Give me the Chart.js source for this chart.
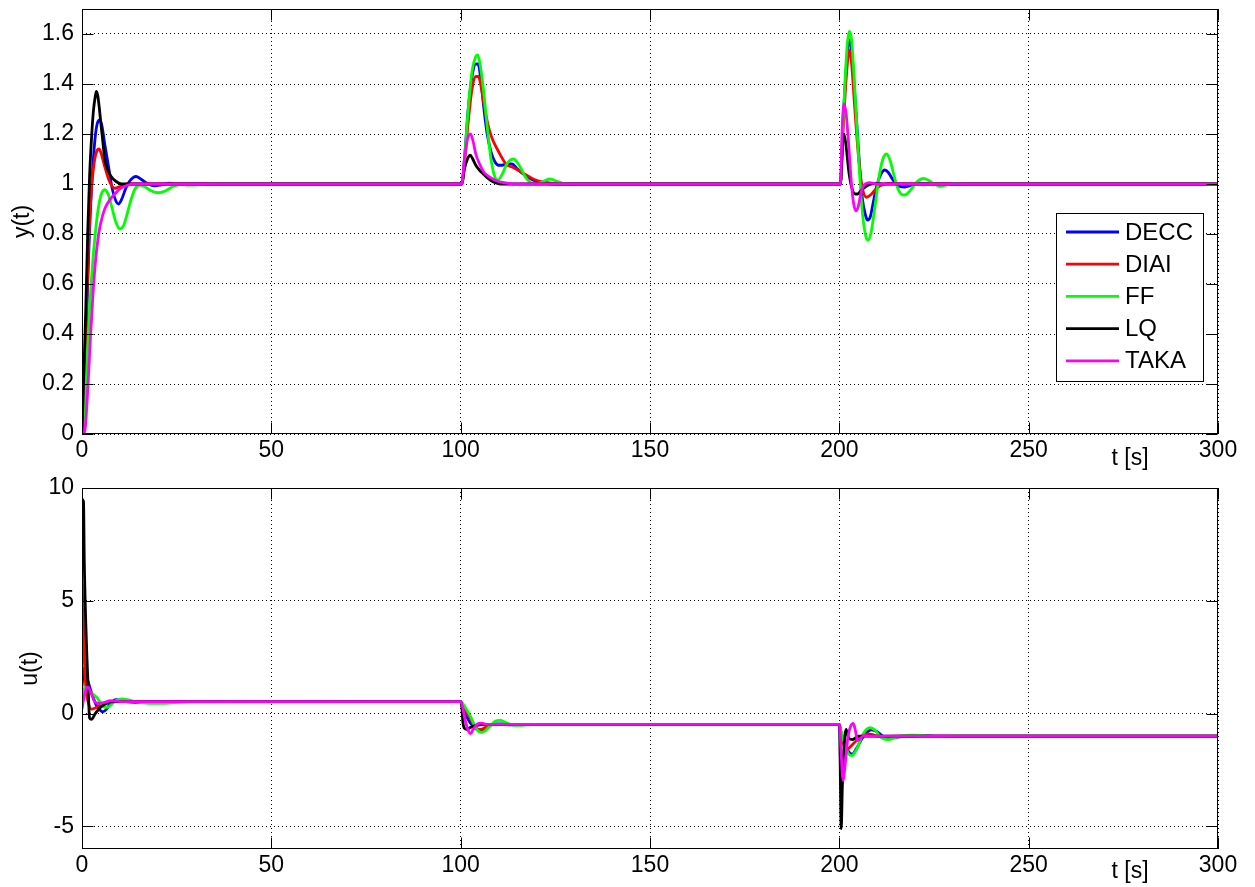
<!DOCTYPE html>
<html>
<head>
<meta charset="utf-8">
<script src="https://cdn.jsdelivr.net/npm/chart.js@4.4.1/dist/chart.umd.min.js"></script>
<style>
  body { margin: 0; background: #fff; }
  #wrap { position: relative; width: 1255px; height: 887px; }
  canvas { position: absolute; left: 0; }
</style>
</head>
<body>
<div id="wrap">
  <canvas id="yChart" width="1255" height="480" style="top:0"></canvas>
  <canvas id="uChart" width="1255" height="425" style="top:462px"></canvas>
</div>
<script>
// controllers, in legend order
const names = ['DECC', 'DIAI', 'FF', 'LQ', 'TAKA'];
const colors = ['#0000ff', '#ff0000', '#00ff00', '#000000', '#ff00ff'];

const tTicks = [0, 50, 100, 150, 200, 250, 300];
const yTicks = [0, 0.2, 0.4, 0.6, 0.8, 1, 1.2, 1.4, 1.6];
const uTicks = [-5, 0, 5, 10];

// output y(t), [t, y]
const yDECC = [[0,0],[0.5,0.12],[1,0.35],[1.5,0.6],[2,0.82],[2.5,0.98],[3,1.1],[3.5,1.19],[4,1.24],[4.7,1.256],[5.3,1.23],[6,1.16],[7,1.07],[8,0.98],[9,0.93],[9.6,0.92],[10.5,0.94],[11.5,0.98],[12.5,1.01],[14.3,1.03],[16,1.015],[17.5,1.0],[19.2,0.993],[21,0.997],[23,1.003],[25,1.0],
  [100,1.0],[100.3,1.0],[101,1.1],[102,1.3],[103,1.43],[104,1.48],[104.6,1.48],[105.3,1.42],[106,1.32],[107,1.2],[108,1.13],[109,1.09],[110,1.075],[111,1.075],[112,1.08],[113.5,1.08],[115,1.06],[116.5,1.04],[118,1.025],[120,1.01],[122,1.003],[125,1.0],
  [200,1.0],[200.3,1.0],[201,1.25],[202,1.5],[202.6,1.576],[203.2,1.54],[204,1.38],[205,1.15],[206,0.95],[207,0.87],[207.5,0.856],[208.2,0.87],[209,0.93],[210,1.0],[211,1.04],[212,1.056],[213,1.045],[214,1.02],[215,1.0],[216,0.99],[217.3,0.988],[219,0.995],[221,1.003],[223,1.002],[226,1.0],[300,1.0]];
const yDIAI = [[0,0],[0.5,0.15],[1,0.4],[1.5,0.65],[2,0.85],[2.5,0.98],[3,1.06],[3.5,1.11],[4,1.135],[4.5,1.14],[5,1.125],[6,1.07],[7,1.02],[8,0.99],[8.7,0.983],[10,0.99],[11,0.997],[12,1.0],
  [100,1.0],[100.3,1.0],[101,1.08],[102,1.25],[103,1.38],[104,1.43],[104.7,1.43],[105.5,1.38],[106.5,1.29],[107.5,1.22],[108.5,1.175],[110,1.13],[112,1.08],[114,1.065],[116,1.048],[118,1.03],[120,1.015],[123,1.005],[127,1.0],
  [200,1.0],[200.3,1.0],[201,1.22],[202,1.46],[202.6,1.536],[203.2,1.49],[204,1.32],[205,1.12],[206,0.99],[207.2,0.947],[208.5,0.96],[210,0.985],[212,1.0],[214,1.003],[217,1.0],[300,1.0]];
const yFF = [[0,0],[0.5,0.06],[1,0.18],[1.5,0.35],[2,0.5],[2.5,0.62],[3,0.72],[3.5,0.8],[4,0.87],[4.5,0.92],[5,0.955],[6,0.977],[7,0.955],[8,0.9],[9,0.845],[10,0.82],[11,0.835],[12,0.885],[13,0.94],[14,0.98],[15.2,0.996],[16.5,0.99],[18,0.975],[20,0.965],[22,0.972],[24,0.99],[26,0.998],[28,0.996],[31,0.997],[34,1.0],
  [100,1.0],[100.3,1.0],[101,1.1],[102,1.3],[103,1.45],[104,1.51],[104.5,1.516],[105,1.49],[106,1.38],[107,1.23],[108,1.1],[109,1.03],[109.8,1.015],[111,1.04],[112,1.075],[113,1.095],[114,1.1],[115,1.085],[116,1.06],[117,1.03],[118.5,1.005],[120,1.0],[122,1.012],[123.6,1.02],[125,1.013],[127,1.003],[130,1.0],
  [200,1.0],[200.3,1.0],[201,1.25],[202,1.54],[202.6,1.61],[203.2,1.58],[204,1.4],[205,1.13],[206,0.9],[207,0.79],[207.5,0.776],[208.3,0.8],[209.5,0.92],[210.5,1.03],[211.5,1.1],[212.5,1.12],[213.5,1.09],[214.5,1.03],[215.5,0.98],[216.5,0.958],[217.3,0.956],[218.5,0.97],[220,1.0],[221,1.015],[222.2,1.022],[223.5,1.015],[225,1.0],[226.6,0.99],[228,0.995],[230,1.002],[233,1.0],[300,1.0]];
const yLQ = [[0,0],[0.3,0.15],[0.7,0.35],[1,0.5],[1.5,0.8],[2,1.03],[2.5,1.18],[3,1.29],[3.5,1.35],[3.8,1.37],[4.2,1.35],[4.6,1.3],[5,1.24],[5.5,1.17],[6,1.1],[6.5,1.07],[7,1.05],[7.7,1.03],[9,1.01],[10.5,1.0],
  [100,1.0],[100.3,1.0],[101,1.06],[101.8,1.1],[102.5,1.115],[103.2,1.1],[104,1.075],[105,1.055],[106,1.04],[107,1.025],[108,1.014],[109,1.006],[110.5,1.0],
  [200,1.0],[200.3,1.0],[200.8,1.15],[201.2,1.2],[201.8,1.15],[202.5,1.05],[203.3,0.985],[204.2,0.96],[204.8,0.96],[205.8,0.975],[207,0.99],[208.5,1.0],[210,1.002],[212,1.0],[300,1.0]];
const yTAKA = [[0,0],[0.7,0.01],[1,0.05],[1.6,0.2],[2.2,0.38],[2.9,0.56],[3.5,0.68],[4.4,0.8],[5.2,0.86],[6,0.9],[7.5,0.94],[9,0.965],[10,0.98],[12,0.995],[14,1.0],
  [100,1.0],[100.3,1.0],[101,1.1],[101.8,1.18],[102.6,1.2],[103.3,1.17],[104,1.12],[105,1.08],[106,1.05],[107,1.035],[108.5,1.02],[110,1.01],[112,1.004],[114,1.0],
  [200,1.0],[200.3,1.0],[200.7,1.2],[201.2,1.32],[201.8,1.28],[202.5,1.15],[203.2,1.0],[203.8,0.92],[204.4,0.893],[205,0.91],[205.8,0.97],[206.8,1.0],[208,1.005],[210,1.0],[300,1.0]];

// control signal u(t), [t, u]
const uDECC = [[0,1.2],[0.5,2.0],[1,1.8],[1.5,1.5],[2,1.2],[3,0.7],[4,0.3],[5,0.12],[5.5,0.08],[6.5,0.2],[7.5,0.45],[9,0.62],[10.5,0.6],[12,0.52],[14,0.5],[20,0.52],[25,0.53],
  [100,0.53],[100.5,0.3],[101.5,-0.1],[102.5,-0.4],[104,-0.68],[105.5,-0.75],[107,-0.6],[109,-0.45],[111,-0.45],[113,-0.5],[116,-0.48],
  [200,-0.48],[200.5,-0.9],[201.5,-1.4],[202.5,-1.7],[203.3,-1.8],[204.5,-1.55],[206,-1.1],[207.5,-0.8],[208.5,-0.72],[210,-0.8],[211.5,-1.0],[213,-1.1],[215,-1.05],[218,-1.0],[222,-0.97],[226,-1.0],[300,-1.0]];
const uDIAI = [[0,5.8],[0.3,4.5],[0.6,2.5],[1,1.2],[1.5,0.6],[2.5,0.2],[3.5,0.25],[5,0.4],[7,0.5],[9,0.53],
  [100,0.53],[100.5,0.4],[101.5,0.1],[102.5,-0.2],[103.5,-0.5],[104.5,-0.68],[105.5,-0.7],[106.5,-0.6],[108,-0.5],[110,-0.48],
  [200,-0.48],[200.5,-0.9],[201.2,-1.4],[201.9,-1.6],[203,-1.45],[204.5,-1.2],[206,-1.0],[207.2,-0.9],[208.5,-0.92],[210,-1.0],[212,-1.02],[215,-1.0],[300,-1.0]];
const uFF = [[0,0.8],[0.5,1.1],[1,1.15],[2,1.0],[3,0.85],[4,0.7],[5,0.45],[6,0.28],[7,0.3],[8,0.45],[9,0.58],[10.5,0.65],[12,0.62],[13.5,0.55],[16,0.48],[20,0.45],[24,0.48],[28,0.52],
  [100,0.53],[100.5,0.45],[101.5,0.2],[102.5,-0.1],[103.5,-0.45],[104.5,-0.75],[105.5,-0.83],[106.5,-0.75],[108,-0.5],[109,-0.35],[110.4,-0.3],[112,-0.4],[114,-0.52],[116,-0.52],[120,-0.48],
  [200,-0.48],[200.5,-0.8],[201.5,-1.4],[202.5,-1.8],[203.3,-1.86],[204.5,-1.6],[206,-1.0],[207,-0.72],[208.1,-0.62],[209.5,-0.75],[211,-1.05],[212.9,-1.15],[214.5,-1.08],[216.5,-0.98],[219,-0.95],[222,-0.97],[226,-1.02],[230,-1.0],[300,-1.0]];
const uLQ = [[0,9.5],[0.4,9.4],[0.6,6.8],[1,4],[1.3,2.5],[1.7,0.8],[2,-0.2],[2.5,-0.25],[3.5,0.0],[5,0.3],[6.5,0.45],[7.5,0.52],[9,0.53],
  [100,0.53],[100.3,0.3],[100.6,-0.4],[101,-0.65],[101.6,-0.7],[102.5,-0.62],[103.5,-0.55],[105,-0.5],[107,-0.48],
  [200,-0.48],[200.2,-2],[200.5,-5.1],[200.8,-3.2],[201.2,-1.6],[201.8,-0.7],[202.5,-1.1],[203.5,-1.15],[205,-1.0],[300,-1.0]];
const uTAKA = [[0,0.2],[0.5,0.7],[1,1.05],[1.6,1.18],[2.2,1.0],[3.3,0.55],[4.5,0.45],[6,0.5],[7.5,0.57],[9,0.55],[11,0.53],
  [100,0.53],[100.5,0.3],[101.2,-0.3],[102,-0.75],[102.6,-0.89],[103.3,-0.7],[104.5,-0.45],[105.5,-0.42],[107,-0.48],[109,-0.48],
  [200,-0.48],[200.4,-1.5],[200.8,-2.7],[201.06,-2.96],[201.5,-2.3],[202.3,-1.0],[203,-0.55],[203.7,-0.43],[204.3,-0.8],[204.8,-1.2],[205.6,-1.1],[206.5,-0.97],[208,-1.0],[300,-1.0]];

const FONT = "'Liberation Sans', Arial, Helvetica, sans-serif";
Chart.defaults.font.family = FONT;
Chart.defaults.font.size = 23;
Chart.defaults.color = '#000';

function makeDatasets(series) {
  return series.map((pts, i) => ({
    label: names[i],
    data: pts.map(p => ({x: p[0], y: p[1]})),
    borderColor: colors[i],
    backgroundColor: colors[i],
    borderWidth: 2.8,
    pointRadius: 0,
    showLine: true,
    fill: false,
    cubicInterpolationMode: 'monotone',
    order: series.length - 1 - i   // last one (TAKA) on top, like matlab
  }));
}

// matlab style box, inward ticks, axis labels and legend
const frame = {
  id: 'frame',
  afterDraw(chart, args, opts) {
    const ctx = chart.ctx;
    const a = chart.chartArea;
    const xs = chart.scales.x, ys = chart.scales.y;
    const L = Math.round(a.left) + 0.5, R = Math.round(a.right) - 0.5;
    const T = Math.round(a.top) + 0.5, B = Math.round(a.bottom) - 0.5;
    const tl = 11;
    ctx.save();
    ctx.strokeStyle = '#000';
    ctx.lineWidth = 1;
    ctx.beginPath();
    tTicks.forEach(v => {
      const px = Math.round(xs.getPixelForValue(v)) + 0.5;
      ctx.moveTo(px, B); ctx.lineTo(px, B - tl);
      ctx.moveTo(px, T); ctx.lineTo(px, T + tl);
    });
    opts.yTicks.forEach(v => {
      const py = Math.round(ys.getPixelForValue(v)) + 0.5;
      ctx.moveTo(L, py); ctx.lineTo(L + tl, py);
      ctx.moveTo(R, py); ctx.lineTo(R - tl, py);
    });
    ctx.stroke();
    ctx.strokeRect(L, T, R - L, B - T);

    ctx.fillStyle = '#000';
    ctx.font = '23px ' + FONT;
    // y label
    ctx.save();
    ctx.translate(opts.yLabelX, (a.top + a.bottom) / 2);
    ctx.rotate(-Math.PI / 2);
    ctx.textAlign = 'center';
    ctx.textBaseline = 'middle';
    ctx.fillText(opts.yLabel, 0, 0);
    ctx.restore();
    // x label
    ctx.textAlign = 'center';
    ctx.textBaseline = 'alphabetic';
    ctx.fillText('t [s]', 1130, a.bottom + opts.xLabelDy);

    if (opts.legend) {
      const lx = 1056, ly = 213, lw = 147, lh = 168;
      ctx.fillStyle = '#fff';
      ctx.fillRect(lx, ly, lw, lh);
      ctx.strokeRect(lx + 0.5, ly + 0.5, lw, lh);
      ctx.font = '24px ' + FONT;
      ctx.textAlign = 'left';
      ctx.textBaseline = 'middle';
      names.forEach((n, i) => {
        const ry = 232 + i * 32.2;
        ctx.strokeStyle = colors[i];
        ctx.lineWidth = 2.8;
        ctx.beginPath();
        ctx.moveTo(1066, ry); ctx.lineTo(1119, ry);
        ctx.stroke();
        ctx.fillStyle = '#000';
        ctx.fillText(n, 1125, ry + 1);
      });
    }
    ctx.restore();
  }
};

function makeChart(id, series, yMin, yMax, ticksY, pad, xHeight, frameOpts) {
  return new Chart(document.getElementById(id), {
    type: 'scatter',
    data: {datasets: makeDatasets(series)},
    options: {
      responsive: false,
      animation: false,
      events: [],
      layout: {padding: {left: 0, right: 37, top: pad, bottom: 0}},
      plugins: {legend: {display: false}, tooltip: {enabled: false}, frame: frameOpts},
      scales: {
        x: {
          type: 'linear', min: 0, max: 300,
          afterBuildTicks: s => { s.ticks = tTicks.map(v => ({value: v})); },
          afterFit: s => { s.height = xHeight; s.paddingLeft = 0; s.paddingRight = 0; },
          ticks: {padding: 3, maxRotation: 0, autoSkip: false, color: '#000'},
          grid: {color: '#000', lineWidth: 1, drawTicks: false},
          border: {display: false, dash: [1, 3]}
        },
        y: {
          type: 'linear', min: yMin, max: yMax,
          afterBuildTicks: s => { s.ticks = ticksY.map(v => ({value: v})); },
          afterFit: s => { s.width = 82; s.paddingTop = 0; s.paddingBottom = 0; },
          ticks: {padding: 8, color: '#000', callback: v => String(v)},
          grid: {color: '#000', lineWidth: 1, drawTicks: false},
          border: {display: false, dash: [1, 3]}
        }
      }
    },
    plugins: [frame]
  });
}

makeChart('yChart', [yDECC, yDIAI, yFF, yLQ, yTAKA], 0, 1.7, yTicks, 9, 46,
  {yTicks: yTicks, yLabel: 'y(t)', yLabelX: 23, xLabelDy: 31, legend: true});
makeChart('uChart', [uDECC, uDIAI, uFF, uLQ, uTAKA], -6, 10, uTicks, 26, 38,
  {yTicks: uTicks, yLabel: 'u(t)', yLabelX: 31, xLabelDy: 29, legend: false});
</script>
</body>
</html>
